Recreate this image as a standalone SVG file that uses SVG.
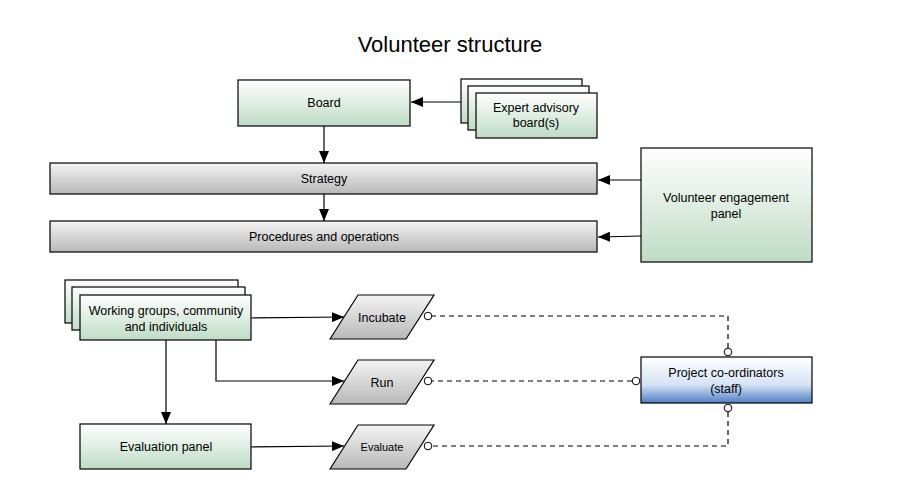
<svg xmlns="http://www.w3.org/2000/svg" width="900" height="504" viewBox="0 0 900 504">
<defs>
<linearGradient id="g" x1="0" y1="0" x2="0" y2="1"><stop offset="0" stop-color="#ffffff"/><stop offset="1" stop-color="#bfdcc6"/></linearGradient>
<linearGradient id="s" x1="0" y1="0" x2="0" y2="1"><stop offset="0" stop-color="#f4f4f4"/><stop offset="1" stop-color="#b8b8b8"/></linearGradient>
<linearGradient id="b" x1="0" y1="0" x2="0" y2="1"><stop offset="0" stop-color="#ffffff"/><stop offset="0.6" stop-color="#d5e3f5"/><stop offset="1" stop-color="#4f7fc4"/></linearGradient>
<marker id="a" markerWidth="12" markerHeight="10" refX="12" refY="5" orient="auto" markerUnits="userSpaceOnUse"><path d="M0,0L12,5L0,10z" fill="#000"/></marker>
<marker id="c" markerWidth="10" markerHeight="10" refX="9" refY="5" orient="auto" markerUnits="userSpaceOnUse"><circle cx="5" cy="5" r="3.8" fill="#fff" stroke="#000" stroke-width="1"/></marker>
</defs>
<style>
.n{stroke:#000;stroke-width:1.2}
.gr{fill:url(#g)}.sv{fill:url(#s)}
text{font-family:"Helvetica","Liberation Sans",Arial,sans-serif;font-size:12.5px;text-anchor:middle;fill:#000}
.l{fill:none;stroke:#000;stroke-width:1.2}
.d{fill:none;stroke:#000;stroke-width:1.2;stroke-dasharray:5,4}
</style>
<rect width="900" height="504" fill="#fff"/>
<text x="450" y="52" style="font-size:22px">Volunteer structure</text>
<g id="board"><rect class="n gr" x="238" y="80" width="172" height="46"/><text x="324" y="107">Board</text></g>
<g id="expert"><rect class="n gr" x="461" y="79" width="121" height="44"/><rect class="n gr" x="468" y="86" width="121" height="44"/><rect class="n gr" x="476" y="93" width="121" height="45"/><text x="536" y="112">Expert advisory</text><text x="536" y="127">board(s)</text></g>
<g id="strategy"><rect class="n sv" x="50" y="163" width="547" height="31"/><text x="324" y="183">Strategy</text></g>
<g id="procedures"><rect class="n sv" x="50" y="221" width="547" height="31"/><text x="324" y="241">Procedures and operations</text></g>
<g id="vep"><rect class="n gr" x="641" y="148" width="171" height="114"/><text x="726" y="202">Volunteer engagement</text><text x="726" y="218">panel</text></g>
<g id="wg"><rect class="n gr" x="65" y="280" width="173" height="43"/><rect class="n gr" x="72" y="287" width="173" height="43"/><rect class="n gr" x="80" y="295" width="171" height="45"/><text x="166" y="315">Working groups, community</text><text x="166" y="331">and individuals</text></g>
<g id="evalpanel"><rect class="n gr" x="80" y="424" width="171" height="45"/><text x="166" y="451">Evaluation panel</text></g>
<g id="incubate"><path class="n sv" d="M330,339L358,295L434,295L406,339z"/><text x="382" y="322">Incubate</text></g>
<g id="run"><path class="n sv" d="M330,404L358,360L434,360L406,404z"/><text x="382" y="387">Run</text></g>
<g id="evaluate"><path class="n sv" d="M330,469L358,425L434,425L406,469z"/><text x="382" y="451" style="font-size:11px">Evaluate</text></g>
<g id="pc"><rect class="n" fill="url(#b)" x="641" y="357" width="171" height="46"/><text x="726" y="377">Project co-ordinators</text><text x="726" y="393">(staff)</text></g>
<g id="connectors">
<line class="l" x1="461" y1="102" x2="411" y2="102" marker-end="url(#a)"/>
<line class="l" x1="324" y1="126" x2="324" y2="163" marker-end="url(#a)"/>
<line class="l" x1="324" y1="194" x2="324" y2="221" marker-end="url(#a)"/>
<line class="l" x1="641" y1="180" x2="598" y2="180" marker-end="url(#a)"/>
<line class="l" x1="641" y1="236" x2="598" y2="237" marker-end="url(#a)"/>
<line class="l" x1="251" y1="318" x2="344" y2="317" marker-end="url(#a)"/>
<path class="l" d="M216,340V381H344" marker-end="url(#a)"/>
<line class="l" x1="166" y1="340" x2="166" y2="424" marker-end="url(#a)"/>
<line class="l" x1="251" y1="447" x2="344" y2="446" marker-end="url(#a)"/>
<path class="d" d="M728,348V316H424" marker-start="url(#c)" marker-end="url(#c)"/>
<path class="d" d="M632,381H424" marker-start="url(#c)" marker-end="url(#c)"/>
<path class="d" d="M728,412V446H424" marker-start="url(#c)" marker-end="url(#c)"/>
</g>
</svg>
